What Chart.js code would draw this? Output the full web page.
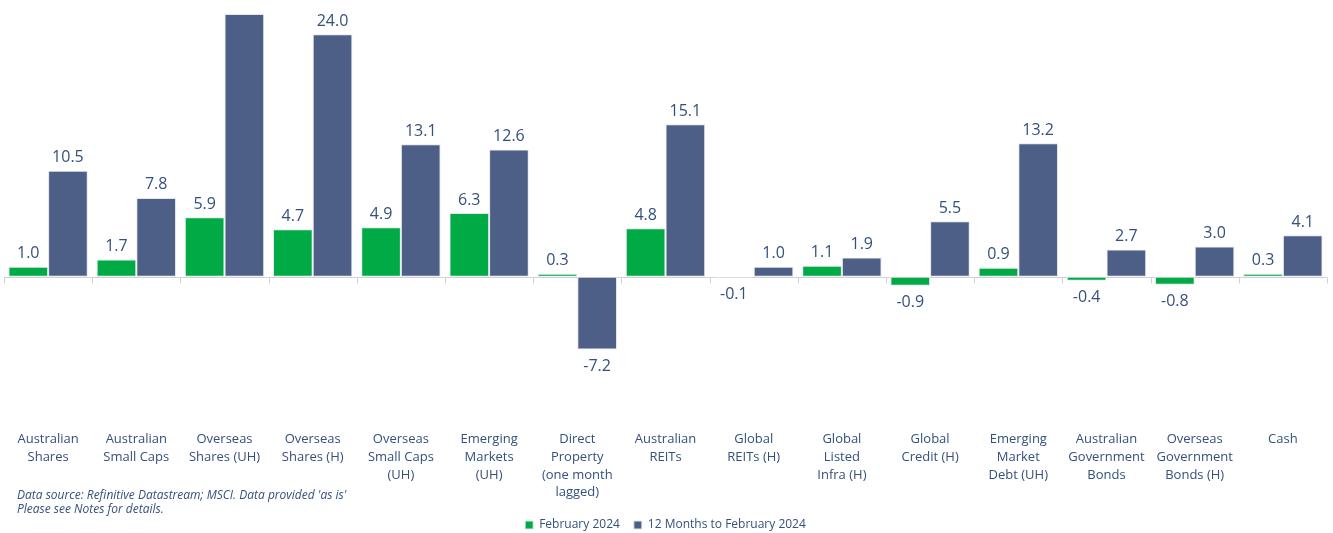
<!DOCTYPE html>
<html>
<head>
<meta charset="utf-8">
<script src="https://cdn.jsdelivr.net/npm/chart.js@4.4.1/dist/chart.umd.min.js"></script>
<style>
  html, body { margin: 0; padding: 0; background: #ffffff; }
  #wrap { width: 1333px; height: 533px; position: relative; }
</style>
</head>
<body>
<div id="wrap"><canvas id="c" width="1333" height="533"></canvas></div>
<script>
const categories = [
  ["Australian", "Shares"],
  ["Australian", "Small Caps"],
  ["Overseas", "Shares (UH)"],
  ["Overseas", "Shares (H)"],
  ["Overseas", "Small Caps", "(UH)"],
  ["Emerging", "Markets", "(UH)"],
  ["Direct", "Property", "(one month", "lagged)"],
  ["Australian", "REITs"],
  ["Global", "REITs (H)"],
  ["Global", "Listed", "Infra (H)"],
  ["Global", "Credit (H)"],
  ["Emerging", "Market", "Debt (UH)"],
  ["Australian", "Government", "Bonds"],
  ["Overseas", "Government", "Bonds (H)"],
  ["Cash"]
];
const february2024 = [1.0, 1.7, 5.9, 4.7, 4.9, 6.3, 0.3, 4.8, -0.1, 1.1, -0.9, 0.9, -0.4, -0.8, 0.3];
const twelveMonths = [10.5, 7.8, 26.0, 24.0, 13.1, 12.6, -7.2, 15.1, 1.0, 1.9, 5.5, 13.2, 2.7, 3.0, 4.1];
const seriesNames = ["February 2024", "12 Months to February 2024"];
const footnoteLines = ["Data source: Refinitive Datastream; MSCI. Data provided 'as is'", "Please see Notes for details."];

const GREEN = '#00aa44';
const BLUE = '#4d5f86';
const TEXT = '#34507c';

const zeroLinePlugin = {
  id: 'zeroLine',
  beforeDatasetsDraw(chart) {
    const { ctx, chartArea, scales } = chart;
    const y0 = Math.round(scales.y.getPixelForValue(0)) + 0.5;
    ctx.save();
    ctx.strokeStyle = '#cfd3d8';
    ctx.lineWidth = 1;
    ctx.beginPath();
    ctx.moveTo(chartArea.left, y0);
    ctx.lineTo(chartArea.right, y0);
    const n = categories.length;
    const step = (chartArea.right - chartArea.left) / n;
    for (let i = 0; i <= n; i++) {
      const x = Math.round(chartArea.left + i * step) + 0.5;
      ctx.moveTo(x, y0);
      ctx.lineTo(x, y0 + 6);
    }
    ctx.stroke();
    ctx.restore();
  }
};

const valueLabelPlugin = {
  id: 'valueLabels',
  afterDatasetsDraw(chart) {
    const { ctx } = chart;
    ctx.save();
    ctx.font = '16px "Open Sans", "Noto Sans", sans-serif';
    ctx.fillStyle = TEXT;
    ctx.textAlign = 'center';
    chart.data.datasets.forEach((ds, di) => {
      const meta = chart.getDatasetMeta(di);
      meta.data.forEach((bar, i) => {
        const v = ds.data[i];
        const txt = v.toFixed(1);
        let y;
        if (v >= 0) {
          ctx.textBaseline = 'bottom';
          y = bar.y - 5;
          if (y - 18 < 0) return;
        } else {
          ctx.textBaseline = 'top';
          y = bar.y + 9;
        }
        ctx.fillText(txt, bar.x, y);
      });
    });
    ctx.restore();
  }
};

const footnotePlugin = {
  id: 'footnote',
  afterDraw(chart) {
    const { ctx } = chart;
    ctx.save();
    ctx.font = 'italic 12px "Open Sans", "Noto Sans", sans-serif';
    ctx.fillStyle = TEXT;
    ctx.textAlign = 'left';
    ctx.textBaseline = 'middle';
    ctx.fillText(footnoteLines[0], 17, 496);
    ctx.fillText(footnoteLines[1], 17, 510);
    ctx.restore();
  }
};

new Chart(document.getElementById('c'), {
  type: 'bar',
  data: {
    labels: categories,
    datasets: [
      { label: seriesNames[0], data: february2024, backgroundColor: GREEN, borderColor: '#e2e5ea', borderWidth: 1, borderSkipped: false, categoryPercentage: 0.9, barPercentage: 1.0 },
      { label: seriesNames[1], data: twelveMonths, backgroundColor: BLUE, borderColor: '#e2e5ea', borderWidth: 1, borderSkipped: false, categoryPercentage: 0.9, barPercentage: 1.0 }
    ]
  },
  options: {
    responsive: false,
    animation: false,
    layout: { padding: { left: 4, right: 6, top: 14, bottom: -8 } },
    plugins: {
      legend: {
        position: 'bottom',
        labels: {
          boxWidth: 8, boxHeight: 8, padding: 14,
          color: TEXT,
          font: { size: 12, family: '"Open Sans", "Noto Sans", sans-serif' }
        }
      },
      tooltip: { enabled: false }
    },
    scales: {
      x: {
        grid: { display: false, drawTicks: false },
        border: { display: false },
        ticks: {
          autoSkip: false, maxRotation: 0, minRotation: 0, padding: 5,
          color: TEXT,
          font: { size: 13, family: '"Open Sans", "Noto Sans", sans-serif', lineHeight: 1.38 }
        },
        afterFit(s) { s.height = 80; }
      },
      y: {
        display: false,
        min: -14.67,
        max: 26.0
      }
    }
  },
  plugins: [zeroLinePlugin, valueLabelPlugin, footnotePlugin]
});
</script>
</body>
</html>
